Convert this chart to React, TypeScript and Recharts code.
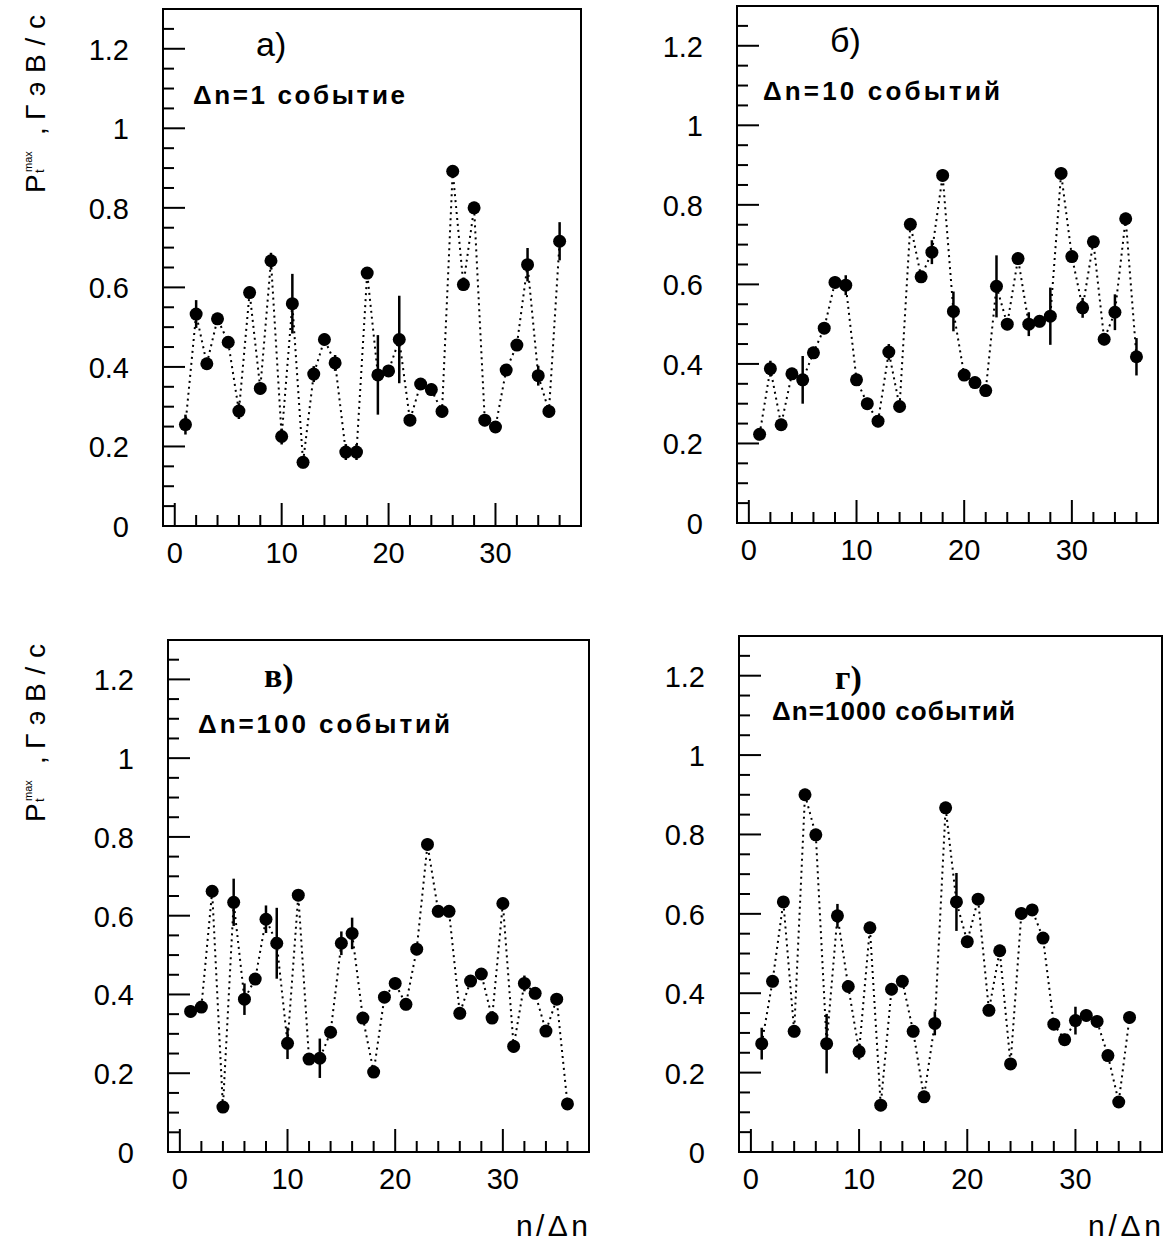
// Четыре панели: P_t^max по интервалам n/Δn для разных Δn
// Recharts: точки с ошибками + пунктирная линия, рамка и тики внутрь.

import React from 'react'
import { ComposedChart, Scatter, XAxis, YAxis, ErrorBar, ReferenceArea } from 'recharts'

const binsA = [1, 2, 3, 4, 5, 6, 7, 8, 9, 10, 11, 12, 13, 14, 15, 16, 17, 18, 19, 20, 21, 22, 23, 24, 25, 26, 27, 28, 29, 30, 31, 32, 33, 34, 35, 36]
const ptA = [0.255, 0.533, 0.408, 0.521, 0.462, 0.289, 0.587, 0.346, 0.667, 0.225, 0.559, 0.160, 0.382, 0.469, 0.410, 0.186, 0.186, 0.636, 0.380, 0.390, 0.469, 0.266, 0.357, 0.343, 0.288, 0.892, 0.607, 0.800, 0.266, 0.249, 0.392, 0.455, 0.657, 0.378, 0.288, 0.716]
const errA = [0.025, 0.035, 0.015, 0.015, 0.015, 0.02, 0.015, 0.015, 0.02, 0.02, 0.075, 0.015, 0.02, 0.015, 0.02, 0.02, 0.02, 0.015, 0.1, 0.015, 0.11, 0.015, 0.015, 0.015, 0.015, 0.015, 0.015, 0.015, 0.015, 0.015, 0.015, 0.015, 0.042, 0.025, 0.015, 0.048]

const binsB = [1, 2, 3, 4, 5, 6, 7, 8, 9, 10, 11, 12, 13, 14, 15, 16, 17, 18, 19, 20, 21, 22, 23, 24, 25, 26, 27, 28, 29, 30, 31, 32, 33, 34, 35, 36]
const ptB = [0.223, 0.388, 0.247, 0.375, 0.360, 0.428, 0.490, 0.605, 0.598, 0.360, 0.300, 0.256, 0.430, 0.293, 0.751, 0.619, 0.681, 0.874, 0.532, 0.372, 0.353, 0.333, 0.595, 0.500, 0.665, 0.500, 0.507, 0.520, 0.879, 0.670, 0.541, 0.707, 0.462, 0.530, 0.765, 0.418]
const errB = [0.015, 0.02, 0.015, 0.015, 0.06, 0.015, 0.015, 0.015, 0.025, 0.015, 0.015, 0.015, 0.02, 0.015, 0.015, 0.015, 0.03, 0.015, 0.05, 0.015, 0.015, 0.015, 0.078, 0.015, 0.015, 0.03, 0.015, 0.072, 0.015, 0.015, 0.025, 0.015, 0.015, 0.045, 0.015, 0.047]

const binsC = [1, 2, 3, 4, 5, 6, 7, 8, 9, 10, 11, 12, 13, 14, 15, 16, 17, 18, 19, 20, 21, 22, 23, 24, 25, 26, 27, 28, 29, 30, 31, 32, 33, 34, 35, 36]
const ptC = [0.357, 0.368, 0.662, 0.114, 0.634, 0.388, 0.439, 0.591, 0.530, 0.276, 0.652, 0.236, 0.238, 0.304, 0.530, 0.555, 0.340, 0.203, 0.393, 0.428, 0.375, 0.515, 0.781, 0.611, 0.611, 0.352, 0.434, 0.452, 0.340, 0.631, 0.268, 0.428, 0.403, 0.307, 0.388, 0.122]
const errC = [0.015, 0.015, 0.015, 0.015, 0.06, 0.04, 0.015, 0.035, 0.09, 0.04, 0.015, 0.015, 0.05, 0.015, 0.03, 0.04, 0.015, 0.015, 0.015, 0.015, 0.015, 0.015, 0.015, 0.015, 0.015, 0.015, 0.015, 0.015, 0.015, 0.015, 0.015, 0.02, 0.015, 0.015, 0.015, 0.015]

const binsD = [1, 2, 3, 4, 5, 6, 7, 8, 9, 10, 11, 12, 13, 14, 15, 16, 17, 18, 19, 20, 21, 22, 23, 24, 25, 26, 27, 28, 29, 30, 31, 32, 33, 34, 35]
const ptD = [0.273, 0.430, 0.630, 0.304, 0.900, 0.799, 0.273, 0.595, 0.417, 0.253, 0.565, 0.118, 0.410, 0.430, 0.304, 0.139, 0.324, 0.867, 0.630, 0.530, 0.637, 0.357, 0.507, 0.222, 0.601, 0.610, 0.539, 0.322, 0.283, 0.331, 0.344, 0.329, 0.243, 0.126, 0.339]
const errD = [0.04, 0.015, 0.015, 0.015, 0.015, 0.015, 0.075, 0.03, 0.015, 0.02, 0.015, 0.015, 0.015, 0.015, 0.015, 0.015, 0.03, 0.015, 0.073, 0.015, 0.015, 0.015, 0.015, 0.015, 0.015, 0.015, 0.015, 0.015, 0.015, 0.035, 0.015, 0.015, 0.015, 0.015, 0.015]

const xTicks = [0, 2, 4, 6, 8, 10, 12, 14, 16, 18, 20, 22, 24, 26, 28, 30, 32, 34, 36]
const yTicks = [0, 0.05, 0.1, 0.15, 0.2, 0.25, 0.3, 0.35, 0.4, 0.45, 0.5, 0.55, 0.6, 0.65, 0.7, 0.75, 0.8, 0.85, 0.9, 0.95, 1, 1.05, 1.1, 1.15, 1.2, 1.25]

const X_MIN = -1.1
const X_MAX = 38
const Y_MAX = 1.3

const FONT = '"Liberation Sans", Arial, sans-serif'
const SERIF = '"Liberation Serif", "DejaVu Serif", serif'

const PAD_L = 80
const PAD_T = 10
const PAD_R = 15
const PAD_B = 60

function YTick(props: any) {
  const { x, y, payload } = props
  const v = payload.value
  const major = Math.abs(v * 5 - Math.round(v * 5)) < 1e-6
  return (
    <g>
      <line x1={x} x2={x + (major ? 22 : 11)} y1={y} y2={y} stroke="#000" strokeWidth={2} />
      {major && (
        <text x={x - 34} y={y + 11} textAnchor="end" fontSize={29} fontFamily={FONT} fill="#000">
          {String(Number(v.toFixed(1)))}
        </text>
      )}
    </g>
  )
}

function XTick(props: any) {
  const { x, y, payload } = props
  const v = payload.value
  const major = v % 10 === 0
  return (
    <g>
      <line x1={x} x2={x} y1={y} y2={y - (major ? 23 : 11)} stroke="#000" strokeWidth={2} />
      {major && (
        <text x={x} y={y + 37} textAnchor="middle" fontSize={29} fontFamily={FONT} fill="#000">
          {v}
        </text>
      )}
    </g>
  )
}

function Dot(p: any) {
  if (p.cx == null || p.cy == null) return null
  return <circle cx={p.cx} cy={p.cy} r={6.5} fill="#000" />
}

type Frame = { x0: number; y0: number; x1: number; y1: number }

function Panel({ frame, bins, values, errors }: { frame: Frame; bins: number[]; values: number[]; errors: number[] }) {
  const rows = bins.map((n, i) => ({ n, v: values[i], err: errors[i] }))
  const w = frame.x1 - frame.x0
  const h = frame.y1 - frame.y0
  return (
    <div style={{ position: 'absolute', left: frame.x0 - PAD_L, top: frame.y0 - PAD_T }}>
      <ComposedChart width={PAD_L + w + PAD_R} height={PAD_T + h + PAD_B} margin={{ top: PAD_T, right: PAD_R, bottom: 0, left: 0 }}>
        <XAxis
          dataKey="n"
          type="number"
          domain={[X_MIN, X_MAX]}
          allowDataOverflow
          ticks={xTicks}
          interval={0}
          tickSize={0}
          tickMargin={0}
          axisLine={false}
          height={PAD_B}
          tick={<XTick />}
        />
        <YAxis
          dataKey="v"
          type="number"
          domain={[0, Y_MAX]}
          allowDataOverflow
          ticks={yTicks}
          interval={0}
          tickSize={0}
          tickMargin={0}
          axisLine={false}
          width={PAD_L}
          tick={<YTick />}
        />
        <ReferenceArea x1={X_MIN} x2={X_MAX} y1={0} y2={Y_MAX} fill="none" fillOpacity={0} stroke="#000" strokeWidth={2} />
        <Scatter
          data={rows}
          dataKey="v"
          isAnimationActive={false}
          line={{ stroke: '#000', strokeWidth: 2, strokeDasharray: '2 4' }}
          lineType="joint"
          shape={<Dot />}
        >
          <ErrorBar dataKey="err" direction="y" width={0} stroke="#000" strokeWidth={2.5} />
        </Scatter>
      </ComposedChart>
    </div>
  )
}

// подпись оси Y, повернута на -90
function YTitle({ x, y }: { x: number; y: number }) {
  return (
    <g transform={`translate(${x}, ${y}) rotate(-90)`} fill="#000" fontFamily={FONT}>
      <text x={0} y={0} fontSize={28}>P</text>
      <text x={20} y={-1} fontSize={13}>t</text>
      <text x={21} y={-13} fontSize={11}>max</text>
      <text x={58} y={0} fontSize={28}>,</text>
      <text x={73} y={0} fontSize={28} textLength={105} lengthAdjust="spacing">ГэВ/с</text>
    </g>
  )
}

export default function App() {
  return (
    <div style={{ position: 'absolute', left: 0, top: 0, width: 1169, height: 1249, background: '#fff' }}>
      <Panel frame={{ x0: 163, y0: 9, x1: 581, y1: 526 }} bins={binsA} values={ptA} errors={errA} />
      <Panel frame={{ x0: 737, y0: 6, x1: 1158, y1: 523 }} bins={binsB} values={ptB} errors={errB} />
      <Panel frame={{ x0: 168, y0: 640, x1: 589, y1: 1152 }} bins={binsC} values={ptC} errors={errC} />
      <Panel frame={{ x0: 739, y0: 636, x1: 1162, y1: 1152 }} bins={binsD} values={ptD} errors={errD} />
      <svg width={1169} height={1249} style={{ position: 'absolute', left: 0, top: 0, pointerEvents: 'none' }}>
        <g fill="#000">
          <text x={256} y={56} fontSize={34} fontFamily={FONT}>а)</text>
          <text x={193} y={104} fontSize={26} fontWeight="bold" fontFamily={FONT} textLength={212} lengthAdjust="spacing">Δn=1 событие</text>
          <text x={830} y={52} fontSize={34} fontFamily={FONT}>б)</text>
          <text x={763} y={100} fontSize={26} fontWeight="bold" fontFamily={FONT} textLength={237} lengthAdjust="spacing">Δn=10 событий</text>
          <text x={264} y={687} fontSize={34} fontWeight="bold" fontFamily={SERIF}>в)</text>
          <text x={198} y={733} fontSize={26} fontWeight="bold" fontFamily={FONT} textLength={252} lengthAdjust="spacing">Δn=100 событий</text>
          <text x={835} y={689} fontSize={34} fontWeight="bold" fontFamily={SERIF}>г)</text>
          <text x={772} y={720} fontSize={26} fontWeight="bold" fontFamily={FONT} textLength={243} lengthAdjust="spacing">Δn=1000 событий</text>
          <text x={516} y={1236} fontSize={30} fontFamily={FONT} textLength={72} lengthAdjust="spacing">n/Δn</text>
          <text x={1088} y={1236} fontSize={30} fontFamily={FONT} textLength={73} lengthAdjust="spacing">n/Δn</text>
        </g>
        <YTitle x={45} y={193} />
        <YTitle x={45} y={822} />
      </svg>
    </div>
  )
}
